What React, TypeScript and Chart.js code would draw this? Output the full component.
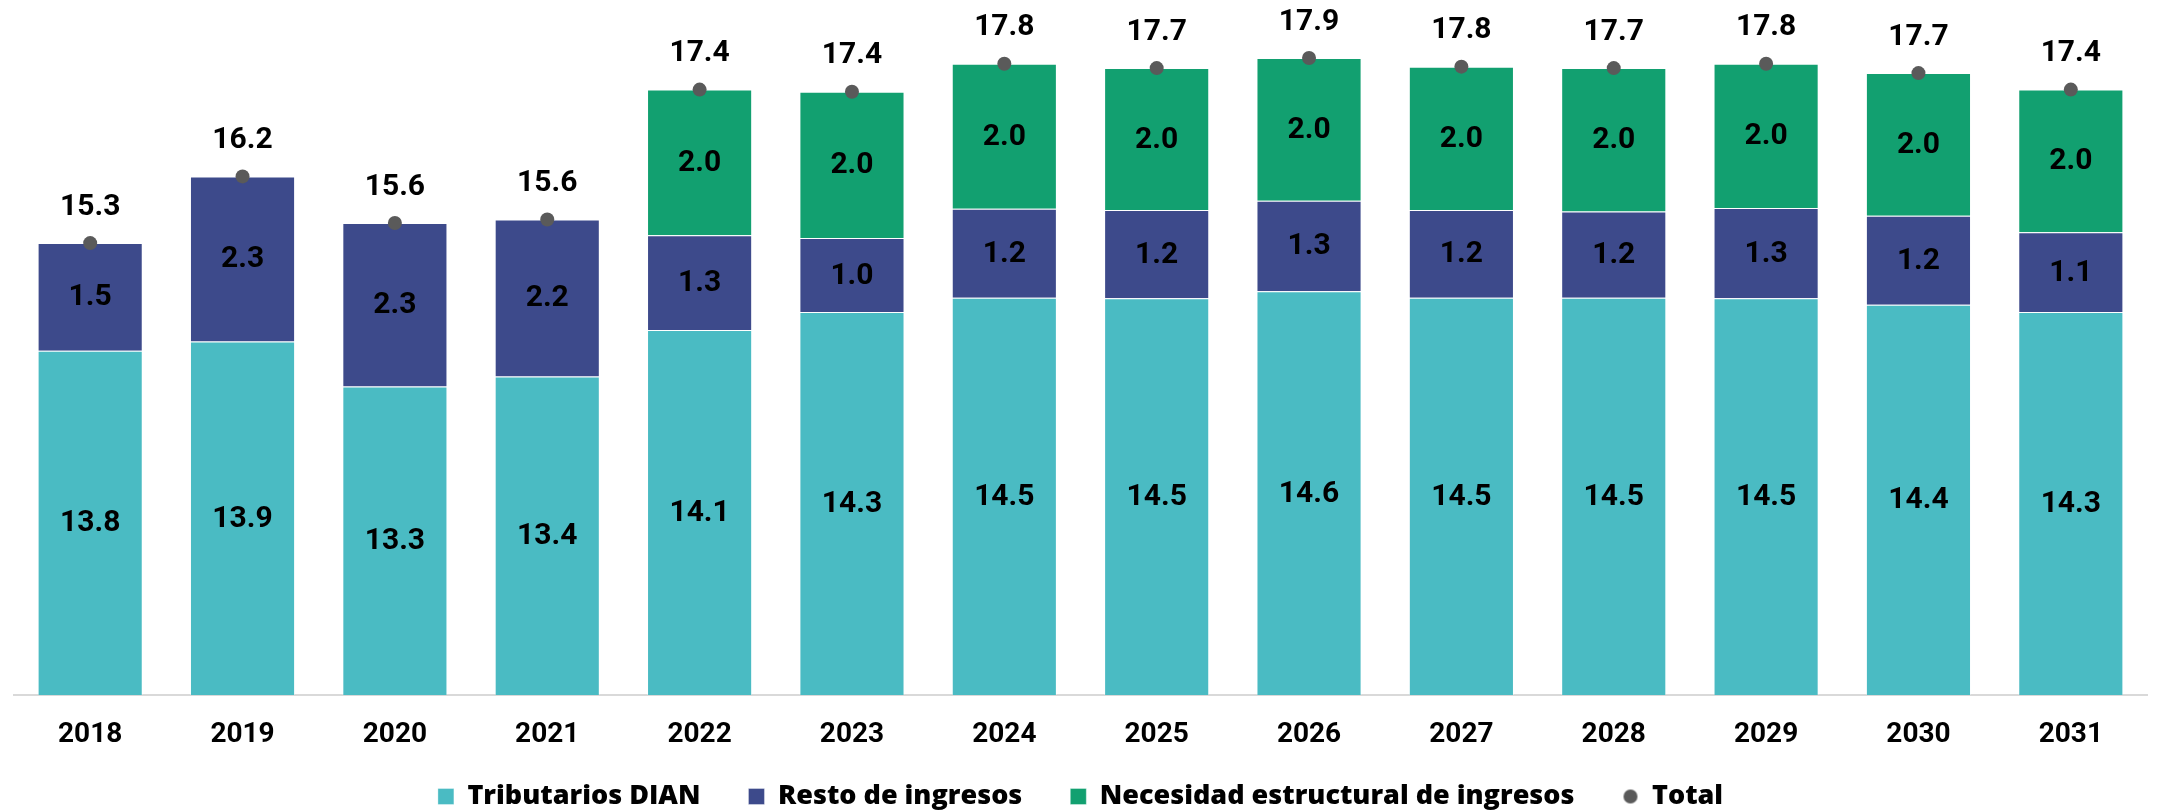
import React, { useEffect, useRef } from "react";
import { Chart, registerables } from "chart.js";

Chart.register(...registerables);

const years = ["2018", "2019", "2020", "2021", "2022", "2023", "2024", "2025", "2026", "2027", "2028", "2029", "2030", "2031"];
const tributariosDIAN = [13.8, 13.93, 13.3, 13.44, 14.09, 14.34, 14.54, 14.53, 14.63, 14.54, 14.54, 14.53, 14.44, 14.34];
const restoIngresos = [1.5, 2.3, 2.28, 2.19, 1.32, 1.03, 1.24, 1.23, 1.26, 1.22, 1.2, 1.26, 1.24, 1.11];
const necesidadEstructural = [null, null, null, null, 2.03, 2.04, 2.02, 1.98, 1.99, 2.0, 2.0, 2.01, 1.99, 1.99];
const totalIngresos = [15.3, 16.23, 15.58, 15.63, 17.44, 17.41, 17.8, 17.74, 17.88, 17.76, 17.74, 17.8, 17.67, 17.44];

const NUM_FONT = `Roboto, "Liberation Sans", sans-serif`;
const LEGEND_FONT = `"Open Sans", "DejaVu Sans Condensed", sans-serif`;
const COLOR_TEAL = "#4ABBC3";
const COLOR_NAVY = "#3D4A8B";
const COLOR_GREEN = "#12A070";
const COLOR_DOT = "#5A5A5A";

const valueLabels = {
  id: "valueLabels",
  beforeDraw(chart: any) {
    const x = chart.scales && chart.scales.x;
    if (x) x._computeLabelArea = () => undefined;
  },
  afterDatasetsDraw(chart: any) {
    const ctx = chart.ctx;
    const bottom = chart.chartArea.bottom;
    ctx.save();
    ctx.font = `bold 30px ${NUM_FONT}`;
    ctx.fillStyle = "#000";
    ctx.textAlign = "center";
    ctx.textBaseline = "middle";
    chart.data.datasets.forEach((ds: any, di: number) => {
      const meta = chart.getDatasetMeta(di);
      if (meta.hidden) return;
      meta.data.forEach((el: any, i: number) => {
        const v = ds.data[i];
        if (v == null) return;
        if (meta.type === "bar") {
          const base = Math.min(el.base, bottom);
          ctx.fillText(Number(v).toFixed(1), el.x, (el.y + base) / 2 + 1);
        } else {
          ctx.fillText(Number(v).toFixed(1), el.x, el.y - 36);
        }
      });
    });
    ctx.restore();
  },
};

function makeDot(): HTMLCanvasElement {
  const c = document.createElement("canvas");
  c.width = 16;
  c.height = 16;
  const g = c.getContext("2d")!;
  g.fillStyle = COLOR_DOT;
  g.beginPath();
  g.arc(8, 8, 7, 0, Math.PI * 2);
  g.fill();
  return c;
}

const barCommon = {
  type: "bar",
  pointStyle: "rect",
  stack: "s",
  order: 1,
  barPercentage: 0.69,
  categoryPercentage: 1,
  borderWidth: 1,
  borderColor: "rgba(255,255,255,0.35)",
};

export default function App() {
  const ref = useRef<HTMLCanvasElement | null>(null);

  useEffect(() => {
    if (!ref.current) return;
    const dot = makeDot();
    const defaultGen = (Chart.defaults.plugins.legend.labels as any).generateLabels;
    const chart = new Chart(ref.current, {
      type: "bar",
      data: {
        labels: years,
        datasets: [
          { ...barCommon, label: "Tributarios DIAN", data: tributariosDIAN, backgroundColor: COLOR_TEAL } as any,
          { ...barCommon, label: "Resto de ingresos", data: restoIngresos, backgroundColor: COLOR_NAVY } as any,
          { ...barCommon, label: "Necesidad estructural de ingresos", data: necesidadEstructural, backgroundColor: COLOR_GREEN } as any,
          {
            type: "line",
            label: "Total",
            data: totalIngresos,
            showLine: false,
            pointRadius: 7,
            pointHoverRadius: 7,
            pointBackgroundColor: COLOR_DOT,
            pointBorderWidth: 0,
            backgroundColor: COLOR_DOT,
            borderColor: COLOR_DOT,
            pointStyle: "circle",
            stack: "total",
            order: -1,
          } as any,
        ],
      },
      options: {
        animation: false,
        responsive: true,
        maintainAspectRatio: false,
        layout: { padding: { left: 14, right: 14, top: 10, bottom: -8 } },
        scales: {
          x: {
            stacked: true,
            grid: { display: false, drawTicks: false },
            border: { display: true, color: "#D9D9D9", width: 2 },
            ticks: {
              color: "#000",
              padding: 23,
              font: { family: NUM_FONT, size: 28, weight: "bold" },
            },
            afterFit(scale: any) {
              scale.height = 40;
            },
          },
          y: {
            stacked: true,
            display: false,
            min: 9,
            max: 18.55,
          },
        },
        plugins: {
          tooltip: { enabled: false },
          legend: {
            position: "bottom",
            labels: {
              usePointStyle: true,
              boxWidth: 16,
              boxHeight: 16,
              padding: 48,
              color: "#000",
              font: { family: LEGEND_FONT, size: 27, weight: "800" },
              sort: (a: any, b: any) => a.datasetIndex - b.datasetIndex,
              generateLabels(c: any) {
                const items = defaultGen(c);
                items.forEach((it: any) => {
                  if (it.text === "Total") it.pointStyle = dot;
                });
                return items;
              },
            },
          },
        },
      } as any,
      plugins: [valueLabels],
    });
    let alive = true;
    const fonts = (document as any).fonts;
    if (fonts) {
      Promise.all([
        fonts.load(`bold 30px Roboto`),
        fonts.load(`800 27px "Open Sans"`),
      ]).then(() => {
        if (alive) chart.update();
      }).catch(() => {});
    }
    return () => {
      alive = false;
      chart.destroy();
    };
  }, []);

  return (
    <div style={{ position: "fixed", left: 0, top: 0, width: 2161, height: 812, background: "#fff" }}>
      <canvas ref={ref} />
    </div>
  );
}
